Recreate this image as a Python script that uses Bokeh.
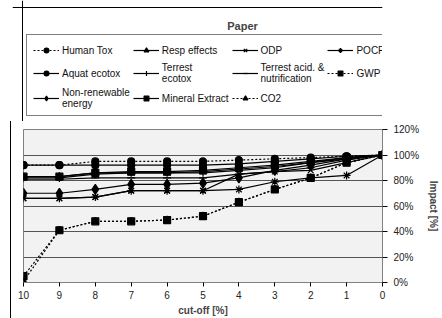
from bokeh.plotting import figure
from bokeh.layouts import column
from bokeh.models import (Range1d, Legend, LegendItem, Label, Span,
                          PrintfTickFormatter, FixedTicker)
from bokeh.embed import file_html
from bokeh.resources import INLINE

cutoff = [10, 9, 8, 7, 6, 5, 4, 3, 2, 1, 0]
human_tox = [92, 92, 95, 95, 95, 95, 96, 97, 98, 99, 100]
resp_effects = [83, 83, 86, 86, 86, 87, 89, 91, 94, 98, 100]
odp = [66, 66, 67, 72, 72, 72, 85, 87, 88, 94, 100]
pocp = [66, 66, 67, 72, 72, 72, 73, 79, 82, 84, 100]
aquat_ecotox = [92, 92, 92, 92, 92, 92, 93, 95, 97, 99, 100]
terrest_ecotox = [82, 82, 85, 86, 86, 86, 88, 90, 94, 97, 100]
terrest_acid = [81, 81, 82, 82, 82, 82, 85, 87, 90, 96, 100]
gwp = [5, 41, 48, 48, 49, 52, 63, 73, 82, 94, 100]
non_renewable = [70, 70, 73, 77, 77, 78, 82, 88, 92, 97, 100]
mineral_extract = [83, 83, 86, 87, 87, 88, 90, 92, 95, 98, 100]
co2 = [1, 41, 48, 48, 49, 52, 63, 73, 82, 94, 100]

series = [
    ("Human Tox", human_tox, "circle", "dotted"),
    ("Resp effects", resp_effects, "triangle", "solid"),
    ("ODP", odp, "x", "solid"),
    ("POCP", pocp, "asterisk", "solid"),
    ("Aquat ecotox", aquat_ecotox, "circle", "solid"),
    ("Terrest\necotox", terrest_ecotox, "cross", "solid"),
    ("Terrest acid. &\nnutrification", terrest_acid, "dash", "solid"),
    ("GWP", gwp, "square", "dotted"),
    ("Non-renewable\nenergy", non_renewable, "diamond", "solid"),
    ("Mineral Extract", mineral_extract, "square", "solid"),
    ("CO2", co2, "triangle", "dotted"),
]

FONT = "Liberation Sans"


def marker_size(marker):
    if marker == "diamond":
        return 10
    if marker in ("circle", "square", "triangle"):
        return 7
    return 8


# ---------- top part: title + legend (series drawn off-range, legend only) ----------
top = figure(width=442, height=121, output_backend="svg", toolbar_location=None,
             title=None, x_range=Range1d(100, 200), y_range=Range1d(1000, 2000),
             x_axis_location=None, y_axis_location=None,
             min_border_left=0, min_border_right=0,
             min_border_top=0, min_border_bottom=0)
top.outline_line_color = None
top.grid.grid_line_color = None
top.background_fill_color = "white"
top.border_fill_color = "white"

top.add_layout(Span(location=114, location_units="screen", dimension="width",
                    line_color="black", line_width=1))
top.add_layout(Span(location=10, location_units="screen", dimension="height",
                    line_color="black", line_width=1))

items = []
for name, vals, marker, dash in series:
    lr = top.line(cutoff, vals, line_color="black", line_width=1.2,
                  line_dash=("2 2" if dash == "dotted" else "solid"))
    sr = top.scatter(cutoff, vals, marker=marker, size=marker_size(marker),
                     fill_color="black", line_color="black", line_width=1.2)
    items.append(LegendItem(label=name, renderers=[lr, sr]))

legend = Legend(items=items, orientation="horizontal", ncols=4,
                location=(14, 5),
                label_text_font=FONT, label_text_font_size="10px",
                label_text_color="#111111",
                glyph_width=26, glyph_height=12, label_standoff=3,
                label_height=18, spacing=3, padding=6, margin=0,
                border_line_color="black", border_line_width=1,
                background_fill_color="white", background_fill_alpha=1)
top.add_layout(legend, "center")

title = Label(x=230, y=96, x_units="screen", y_units="screen", text="Paper",
              text_font=FONT, text_font_style="bold",
              text_font_size="11px", text_align="center",
              text_baseline="middle")
top.add_layout(title)

# ---------- chart ----------
p = figure(width=431, height=197, output_backend="svg", toolbar_location=None,
           title=None,
           x_range=Range1d(10, 0), y_range=Range1d(0, 120),
           y_axis_location="right",
           min_border_left=12, min_border_right=52,
           min_border_top=8, min_border_bottom=34)
p.styles = {"margin-left": "10px", "border-left": "1px solid black"}
p.background_fill_color = "#f2f2f2"
p.border_fill_color = "white"
p.outline_line_color = "#808080"

p.xgrid.grid_line_color = None
p.ygrid.grid_line_color = "#555555"
p.ygrid.ticker = FixedTicker(ticks=[0, 20, 40, 60, 80, 100, 120])

xa = p.xaxis[0]
xa.ticker = FixedTicker(ticks=cutoff)
xa.axis_label = "cut-off [%]"
xa.axis_label_text_font = FONT
xa.axis_label_text_font_style = "bold"
xa.axis_label_text_font_size = "10px"
xa.axis_label_standoff = 3
xa.major_label_text_font = FONT
xa.major_label_text_font_size = "10px"
xa.major_label_text_color = "#222222"
xa.major_label_standoff = 4
xa.major_tick_in = 0
xa.major_tick_out = 4
xa.minor_tick_line_color = None
xa.axis_line_color = "#808080"

ya = p.yaxis[0]
ya.ticker = FixedTicker(ticks=[0, 20, 40, 60, 80, 100, 120])
ya.formatter = PrintfTickFormatter(format="%d%%")
ya.axis_label = "Impact [%]"
ya.axis_label_text_font = FONT
ya.axis_label_text_font_style = "bold"
ya.axis_label_text_font_size = "10px"
ya.axis_label_standoff = 6
ya.major_label_text_font = FONT
ya.major_label_text_font_size = "10px"
ya.major_label_text_color = "#222222"
ya.major_label_standoff = 6
ya.major_tick_in = 0
ya.major_tick_out = 5
ya.minor_tick_line_color = None
ya.axis_line_color = "#808080"

for name, vals, marker, dash in series:
    p.line(cutoff, vals, line_color="black", line_width=1.2,
           line_dash=("2 2" if dash == "dotted" else "solid"))
    p.scatter(cutoff, vals, marker=marker, size=marker_size(marker),
              fill_color="black", line_color="black", line_width=1.2)

layout = column(top, p, spacing=0)
open("out.html", "w").write(file_html(layout, INLINE))
